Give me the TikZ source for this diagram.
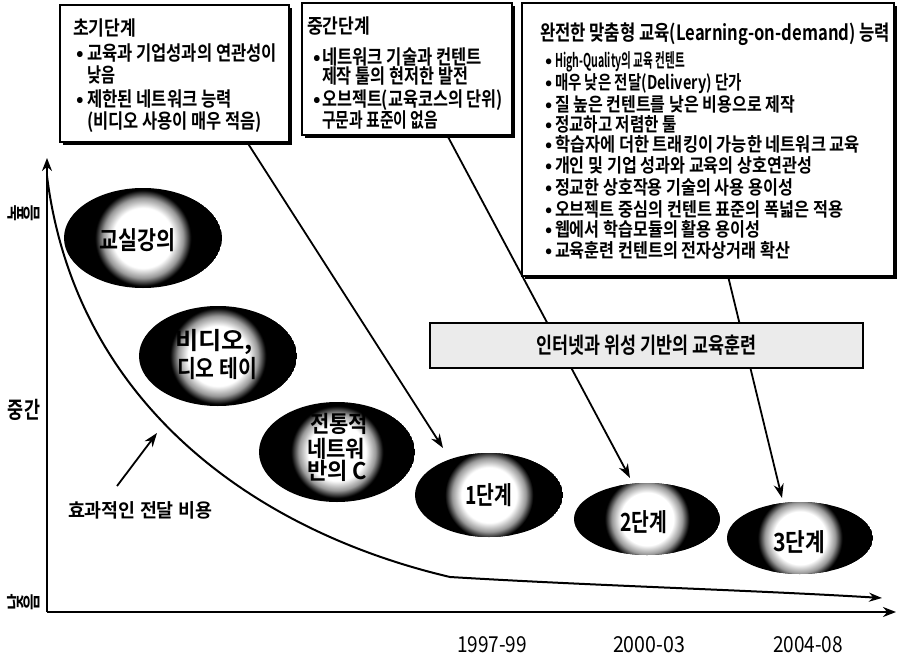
\documentclass[tikz,border=0pt]{standalone}
\usepackage{fontspec}
\usepackage{graphicx}
\setmainfont{Noto Sans CJK KR Medium}[BoldFont={Noto Sans CJK KR Bold}]
\newfontfamily\krreg{Noto Sans CJK KR}
\usetikzlibrary{arrows.meta,shadows,shapes.geometric}
\pgfdeclareradialshading{glow}{\pgfpoint{0bp}{0bp}}{color(0bp)=(white); color(15bp)=(white); color(20bp)=(black!40); color(24bp)=(black); color(50bp)=(black)}
\newcommand{\fw}[2]{\resizebox{#1pt}{\height}{#2}}
\newcommand{\bul}[1]{\makebox[#1pt][l]{•}}
\newcommand{\glowell}[6]{%
  \begin{scope}
    \clip (#2,#3) ellipse [x radius=#4, y radius=#5];
    \fill[black] (#2,#3) ellipse [x radius=#4, y radius=#5];
    \shade[shading=glow] (#2,#3) circle [radius=#6];
  \end{scope}
  \coordinate (#1) at (#2,#3);}
\tikzset{
  lt/.style={anchor=base west, inner sep=0pt, outer sep=0pt},
  f20/.style={font=\bfseries\fontsize{20}{20}\selectfont},
  f19/.style={font=\bfseries\fontsize{19}{19}\selectfont},
  b20/.style={font=\bfseries\fontsize{20}{20}\selectfont},
  rl/.style={inner sep=0pt, rotate=90, font=\bfseries\fontsize{18}{18}\selectfont},
  box/.style={draw, line width=2pt, fill=white, rectangle, inner sep=0pt, outer sep=0pt, anchor=north west,
    drop shadow={shadow xshift=3pt, shadow yshift=-3pt, fill=black, opacity=1}},
  conn/.style={line width=1.8pt, -{Stealth[length=14pt,width=10pt]}},
  axis/.style={line width=2.2pt, -{Stealth[length=13pt,width=10pt]}}
}
\begin{document}
\begin{tikzpicture}[x=1pt,y=-1pt]
\useasboundingbox (0,0) rectangle (899,661);
% axes
\coordinate (org) at (47,612);
\coordinate (ytop) at (47,158);
\coordinate (xend) at (896,612);
\draw[axis] (org) -- (ytop);
\draw[axis] (org) -- (xend);
% axis labels
\node[rl] (yh1) at (16,213) {높};
\node[rl] (yh2) at (32,213) {음};
\node[rl] (yl1) at (16,602) {낮};
\node[rl] (yl2) at (32,602) {음};
\node[lt, font=\bfseries\fontsize{23}{23}\selectfont] (ymid) at (8,418) {\fw{32}{중간}};
% cost curve
\coordinate (cs) at (47,176);
\coordinate (cm) at (450,577);
\coordinate (ce) at (882,598);
\draw[line width=2pt, -{Stealth[length=13pt,width=9pt]}] (cs) .. controls (75,400) and (250,530) .. (cm) .. controls (600,586) and (750,590) .. (ce);
% cost label
\coordinate (ca) at (117,486);
\coordinate (cb) at (157,433);
\draw[conn] (ca) -- (cb);
\node[lt, font=\bfseries\fontsize{19}{19}\selectfont] (clab) at (68,517) {\fw{144}{효과적인 전달 비용}};
% years
\node[lt, font=\krreg\fontsize{22}{22}\selectfont] (y1) at (457,652) {\fw{70}{1997-99}};
\node[lt, font=\krreg\fontsize{22}{22}\selectfont] (y2) at (613,652) {\fw{72}{2000-03}};
\node[lt, font=\krreg\fontsize{22}{22}\selectfont] (y3) at (773,652) {\fw{70}{2004-08}};
% ellipses
\glowell{e1}{143}{238}{79}{50}{50}
\glowell{e2}{218}{356}{79}{50}{50}
\glowell{e3}{337}{452}{78}{50}{48}
\glowell{e4}{489}{495}{74}{42}{46}
\glowell{e5}{647}{519}{73}{36}{44}
\glowell{e6}{800}{538}{73}{36}{44}
\node[lt, font=\bfseries\fontsize{25}{25}\selectfont] (e1t) at (99,249) {\fw{76}{교실강의}};
\node[lt, font=\bfseries\fontsize{24}{24}\selectfont] (e2t1) at (175,349) {\fw{78}{비디오,}};
\node[lt, font=\bfseries\fontsize{24}{24}\selectfont] (e2t2) at (177,377) {\fw{80}{디오 테이}};
\node[lt, font=\bfseries\fontsize{23}{23}\selectfont] (e3t1) at (310,432) {\fw{58}{전통적}};
\node[lt, font=\bfseries\fontsize{23}{23}\selectfont] (e3t2) at (307,457) {\fw{58}{네트워}};
\node[lt, font=\bfseries\fontsize{23}{23}\selectfont] (e3t3) at (307,479) {\fw{60}{반의 C}};
\node[lt, font=\bfseries\fontsize{25}{25}\selectfont] (e4t) at (465,504) {\fw{47}{1단계}};
\node[lt, font=\bfseries\fontsize{25}{25}\selectfont] (e5t) at (620,531) {\fw{47}{2단계}};
\node[lt, font=\bfseries\fontsize{25}{25}\selectfont] (e6t) at (773,551) {\fw{52}{3단계}};
% boxes
\node[box, minimum width=229pt, minimum height=137pt] (b1) at (60,5) {};
\node[box, minimum width=210pt, minimum height=132pt] (b2) at (302,3) {};
\node[box, minimum width=372pt, minimum height=273pt] (b3) at (522,3) {};
% connectors
\coordinate (a1s) at (247,142);
\coordinate (a1e) at (443,448);
\coordinate (a2s) at (447,135);
\coordinate (a2e) at (630,478);
\coordinate (a3s) at (728,276);
\coordinate (a3e) at (782,498);
\draw[conn] (a1s) -- (a1e);
\draw[conn] (a2s) -- (a2e);
\draw[conn] (a3s) -- (a3e);
% banner
\node[draw, line width=2.4pt, fill=black!8, minimum width=433pt, minimum height=45pt, inner sep=0pt,
  font=\bfseries\fontsize{22}{22}\selectfont] (bn) at (646.5,345.5) {\fw{220}{인터넷과 위성 기반의 교육훈련}};
% box 1 text
\node[lt, b20] (b1t) at (73,36) {\fw{63}{초기단계}};
\node[lt, f20] (b1a) at (76,61) {\bul{11}\fw{190}{교육과 기업성과의 연관성이}};
\node[lt, f20] (b1b) at (87,82) {\fw{28}{낮음}};
\node[lt, f20] (b1c) at (76,106) {\bul{11}\fw{145}{제한된 네트워크 능력}};
\node[lt, f20] (b1d) at (87,128) {\fw{175}{(비디오 사용이 매우 적음)}};
% box 2 text
\node[lt, b20] (b2t) at (307,34) {\fw{63}{중간단계}};
\node[lt, f20] (b2a) at (313,64) {\bul{9}\fw{160}{네트워크 기술과 컨텐트}};
\node[lt, f20] (b2b) at (322,84) {\fw{146}{제작 툴의 현저한 발전}};
\node[lt, f20] (b2c) at (313,106) {\bul{9}\fw{181}{오브젝트(교육코스의 단위)}};
\node[lt, f20] (b2d) at (322,127) {\fw{116}{구문과 표준이 없음}};
% box 3 text
\node[lt, font=\bfseries\fontsize{21}{21}\selectfont] (b3t) at (540,41) {\fw{350}{완전한 맞춤형 교육(Learning-on-demand) 능력}};
\node[lt, f19] (b3a) at (545,67) {\bul{10}\fw{130}{High-Quality의 교육 컨텐트}};
\node[lt, f19] (b3b) at (545,89) {\bul{10}\fw{187}{매우 낮은 전달(Delivery) 단가}};
\node[lt, f19] (b3c) at (545,111) {\bul{10}\fw{240}{질 높은 컨텐트를 낮은 비용으로 제작}};
\node[lt, f19] (b3d) at (545,131) {\bul{10}\fw{122}{정교하고 저렴한 툴}};
\node[lt, f19] (b3e) at (545,151) {\bul{10}\fw{305}{학습자에 더한 트래킹이 가능한 네트워크 교육}};
\node[lt, f19] (b3f) at (545,172) {\bul{10}\fw{257}{개인 및 기업 성과와 교육의 상호연관성}};
\node[lt, f19] (b3g) at (545,194) {\bul{10}\fw{238}{정교한 상호작용 기술의 사용 용이성}};
\node[lt, f19] (b3h) at (545,216) {\bul{10}\fw{288}{오브젝트 중심의 컨텐트 표준의 폭넓은 적용}};
\node[lt, f19] (b3i) at (545,236) {\bul{10}\fw{205}{웹에서 학습모듈의 활용 용이성}};
\node[lt, f19] (b3j) at (545,257) {\bul{10}\fw{235}{교육훈련 컨텐트의 전자상거래 확산}};
\end{tikzpicture}
\end{document}
